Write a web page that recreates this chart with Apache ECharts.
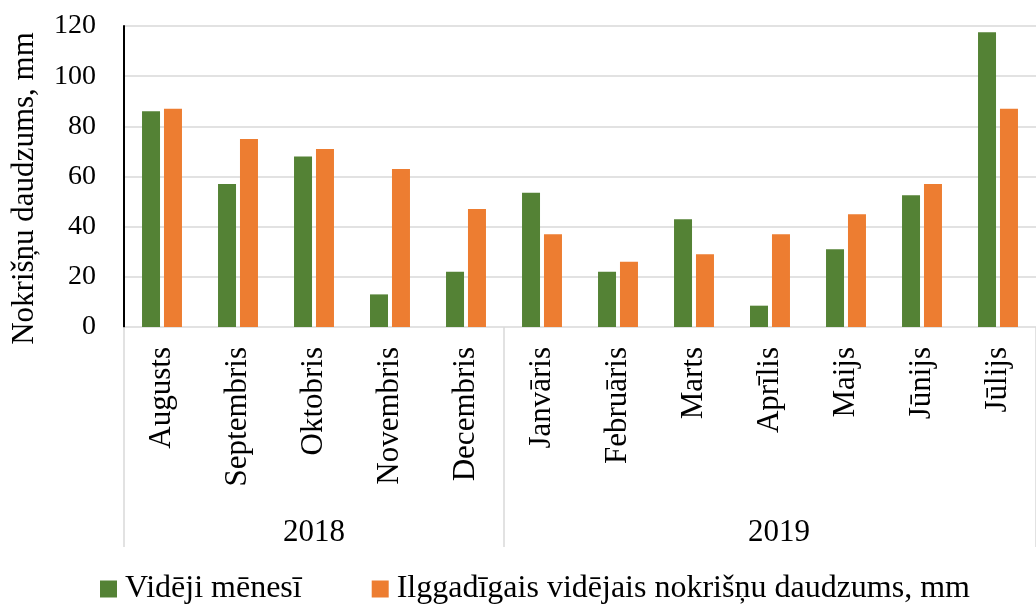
<!DOCTYPE html>
<html>
<head>
<meta charset="utf-8">
<script src="https://cdn.jsdelivr.net/npm/echarts@6/dist/echarts.min.js"></script>
<style>
  html, body {margin: 0; padding: 0; background: #fff;}
  #chart {width: 1036px; height: 605px;}
</style>
</head>
<body>
<div id="chart"></div>
<script>
const months = ['Augusts', 'Septembris', 'Oktobris', 'Novembris', 'Decembris',
  'Janvāris', 'Februāris', 'Marts', 'Aprīlis', 'Maijs', 'Jūnijs', 'Jūlijs'];
// year label sits under the middle month of its group
const yearLabels = ['', '', '2018', '', '', '', '', '', '2019', '', '', ''];
const groupStarts = [0, 5];
const monthly = [86, 57, 68, 13, 22, 53.5, 22, 43, 8.5, 31, 52.5, 117.5];
const longTerm = [87, 75, 71, 63, 47, 37, 26, 29, 37, 45, 57, 87];

const font = "'Liberation Serif', 'Times New Roman', serif";
const chart = echarts.init(document.getElementById('chart'));

chart.setOption({
  animation: false,
  textStyle: {fontFamily: font, color: '#000'},
  grid: {left: 124, right: 0, top: 26, bottom: 278, containLabel: false},
  legend: {
    left: 95,
    top: 568,
    itemWidth: 17,
    itemHeight: 17,
    itemGap: 70,
    icon: 'rect',
    textStyle: {fontFamily: font, fontSize: 32, color: '#000', padding: [0, 0, 0, 3]},
    data: ['Vidēji mēnesī', 'Ilggadīgais vidējais nokrišņu daudzums, mm']
  },
  xAxis: [{
    type: 'category',
    data: months,
    axisLine: {show: false},
    axisTick: {
      show: true,
      length: 220,
      interval: (i) => groupStarts.includes(i),
      lineStyle: {color: '#d9d9d9', width: 1.5}
    },
    axisLabel: {
      rotate: 90,
      interval: 0,
      margin: 20,
      fontFamily: font,
      fontSize: 31,
      color: '#000'
    }
  }, {
    type: 'category',
    data: yearLabels,
    position: 'bottom',
    offset: 186,
    axisLine: {show: false},
    axisTick: {show: false},
    axisLabel: {
      interval: 0,
      margin: 4,
      fontFamily: font,
      fontSize: 31,
      color: '#000',
      formatter: (v) => v === '2019' ? '{r|' + v + '}' : v,
      rich: {r: {fontFamily: font, fontSize: 31, color: '#000', padding: [0, 0, 0, 18]}}
    }
  }],
  yAxis: {
    type: 'value',
    min: 0,
    max: 120,
    interval: 20,
    name: 'Nokrišņu daudzums, mm',
    nameLocation: 'middle',
    nameGap: 84,
    nameTextStyle: {fontFamily: font, fontSize: 31, color: '#000', padding: [0, 0, 0, -24]},
    axisLine: {show: true, lineStyle: {color: '#000', width: 2}},
    axisTick: {show: false},
    axisLabel: {fontFamily: font, fontSize: 28, color: '#000', margin: 28},
    splitLine: {lineStyle: {color: '#d9d9d9', width: 1.5}}
  },
  series: [{
    name: 'Vidēji mēnesī',
    type: 'bar',
    data: monthly,
    barWidth: 18,
    barGap: '22%',
    itemStyle: {color: '#548235'}
  }, {
    name: 'Ilggadīgais vidējais nokrišņu daudzums, mm',
    type: 'bar',
    data: longTerm,
    barWidth: 18,
    itemStyle: {color: '#ed7d31'}
  }]
});
</script>
</body>
</html>
